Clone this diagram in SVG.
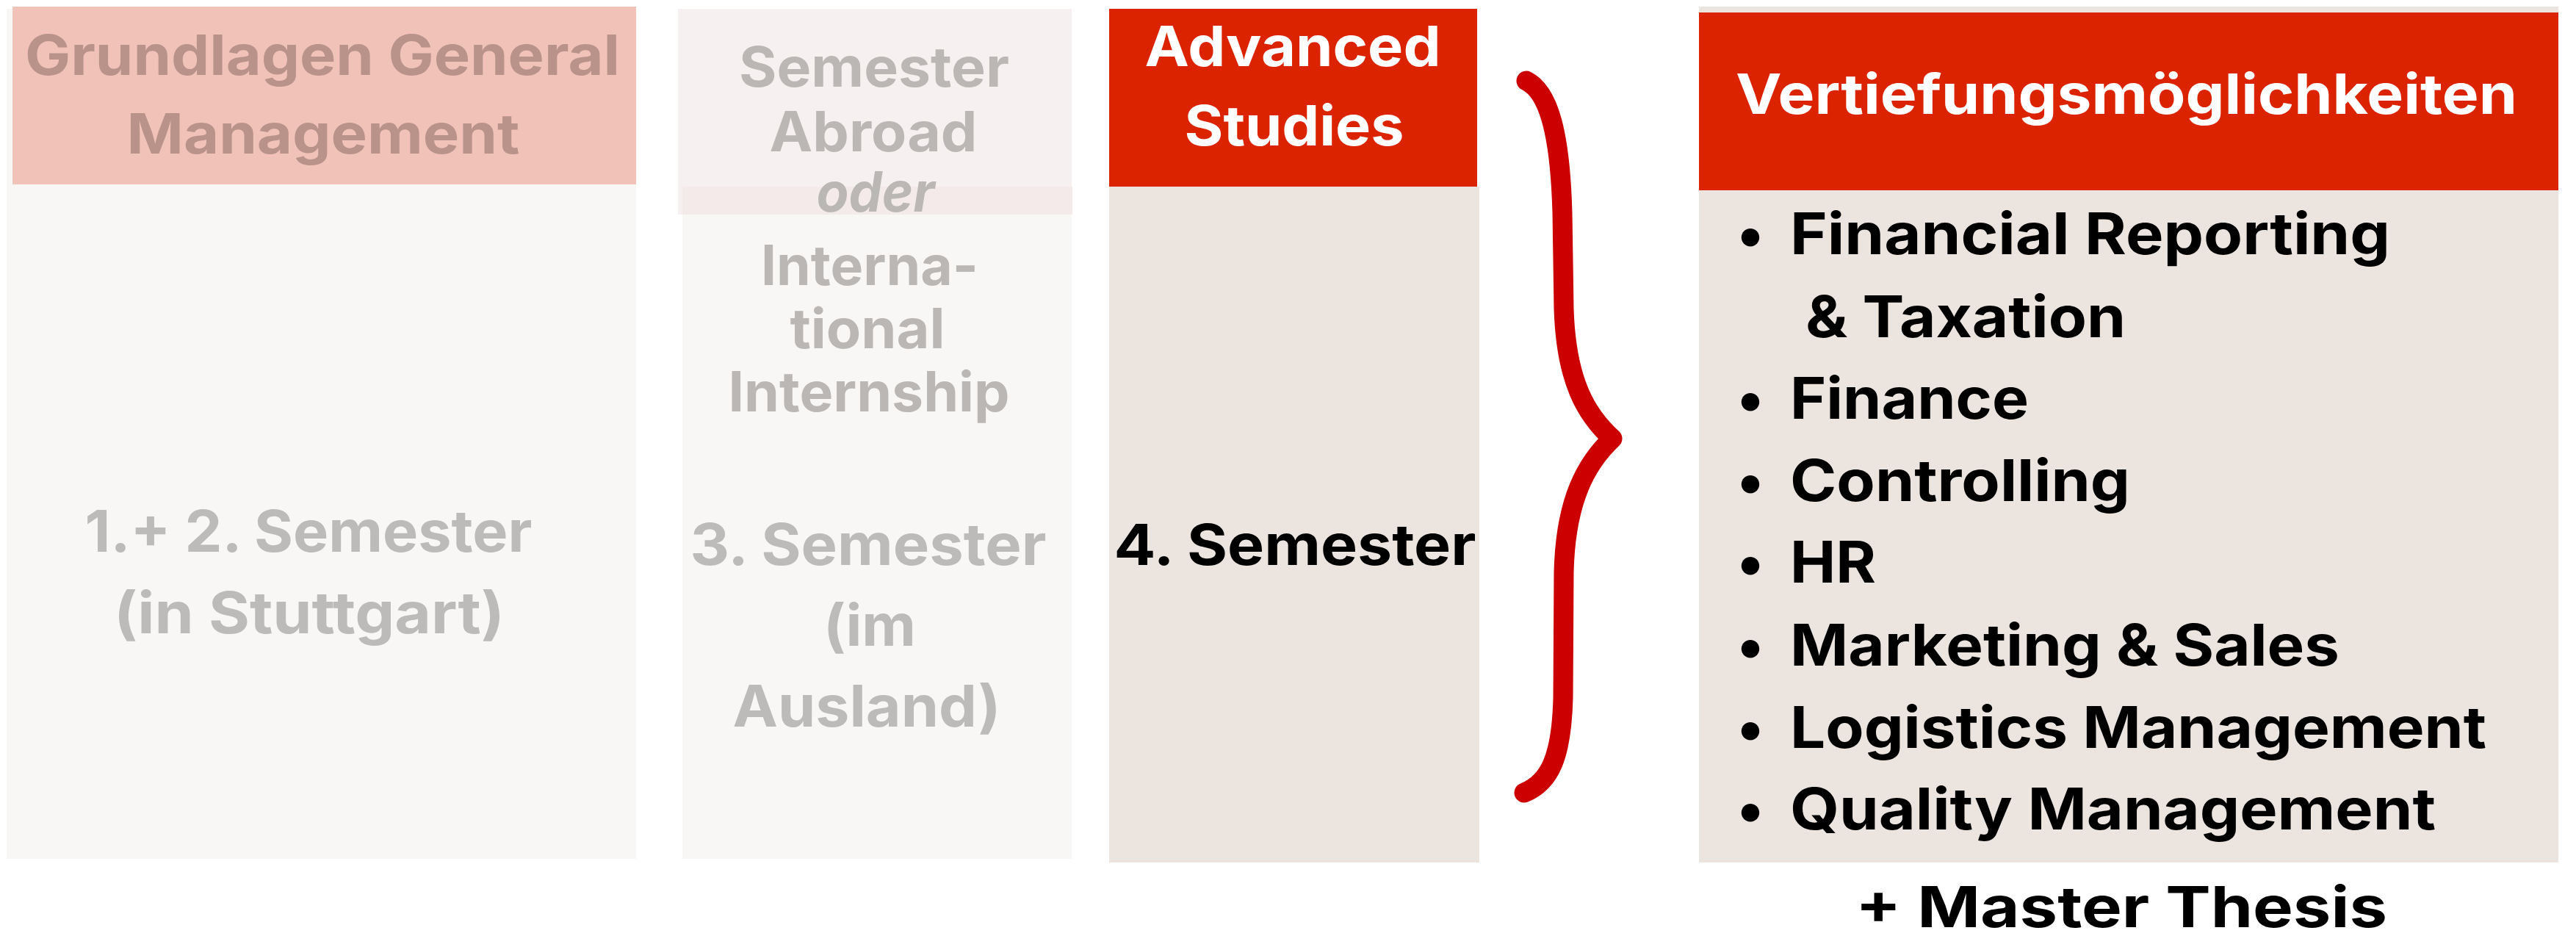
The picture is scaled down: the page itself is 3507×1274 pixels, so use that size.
<svg xmlns="http://www.w3.org/2000/svg" width="3507" height="1274" viewBox="0 0 3507 1274">
<style>
text{font-family:Inter,"Open Sans","Liberation Sans",sans-serif;font-weight:700;text-anchor:middle}
.g1{fill:#b9928a;font-size:76px}
.g2{fill:#bab7b5;font-size:75px}
.gb{fill:#bdbbb9;font-size:78px}
.wh{fill:#ffffff;font-size:76px}
.bk{fill:#000000;font-size:77px}
.li{fill:#000000;font-size:78px;text-anchor:start}
.bu{fill:#000000;font-size:78px}
</style>
<rect x="0" y="0" width="3507" height="1274" fill="#ffffff"/>
<g id="grundlagen">
<rect x="9" y="12" width="857" height="1157" fill="#f8f7f5"/>
<rect x="17" y="9" width="849" height="242" fill="#f1c2b8"/>
<text class="g1" x="439" y="102" textLength="810" lengthAdjust="spacingAndGlyphs">Grundlagen General</text>
<text class="g1" x="440" y="209" textLength="535" lengthAdjust="spacingAndGlyphs">Management</text>
<text class="gb" x="420" y="751" textLength="609" lengthAdjust="spacingAndGlyphs">1.+ 2. Semester</text>
<text class="gb" x="421" y="862" textLength="532" lengthAdjust="spacingAndGlyphs">(in Stuttgart)</text>
</g>
<g id="ausland">
<rect x="923" y="12" width="536" height="280" fill="#f6f1f0"/>
<rect x="929" y="254" width="531" height="38" fill="#f4eae9"/>
<rect x="929" y="292" width="530" height="877" fill="#f8f7f5"/>
<text class="g2" x="1190" y="118" textLength="368" lengthAdjust="spacingAndGlyphs">Semester</text>
<text class="g2" x="1189" y="206" textLength="283" lengthAdjust="spacingAndGlyphs">Abroad</text>
<text class="g2" x="1192" y="288" font-style="italic" fill="#b6b0af" textLength="161" lengthAdjust="spacingAndGlyphs">oder</text>
<text class="g2" x="1184" y="388" textLength="296" lengthAdjust="spacingAndGlyphs">Interna-</text>
<text class="g2" x="1181" y="474" textLength="211" lengthAdjust="spacingAndGlyphs">tional</text>
<text class="g2" x="1183" y="560" textLength="383" lengthAdjust="spacingAndGlyphs">Internship</text>
<text class="gb" x="1182" y="769" textLength="485" lengthAdjust="spacingAndGlyphs">3. Semester</text>
<text class="gb" x="1184" y="879" textLength="126" lengthAdjust="spacingAndGlyphs">(im</text>
<text class="gb" x="1180" y="989" textLength="365" lengthAdjust="spacingAndGlyphs">Ausland)</text>
</g>
<g id="advanced">
<rect x="1510" y="254" width="504" height="920" fill="#ece4df"/>
<rect x="1510" y="12" width="501" height="242" fill="#dc2300"/>
<text class="wh" x="1760" y="90" textLength="403" lengthAdjust="spacingAndGlyphs">Advanced</text>
<text class="wh" x="1762" y="198" textLength="299" lengthAdjust="spacingAndGlyphs">Studies</text>
<text class="bk" x="1763" y="769" textLength="493" lengthAdjust="spacingAndGlyphs">4. Semester</text>
</g>
<g id="connectors">
<path d="M2078,110 C2108,125 2124,180 2127,290 L2129,420 C2132,520 2160,565 2195,597 C2160,630 2131,680 2129,780 L2128,950 C2126,1030 2110,1065 2075,1079" fill="none" stroke="#cc0000" stroke-width="27" stroke-linejoin="round" stroke-linecap="round"/>
</g>
<g id="vertiefung">
<rect x="2313" y="9" width="1170" height="1165" fill="#ece4df"/>
<rect x="2313" y="17" width="1170" height="242" fill="#dc2300"/>
<text class="wh" x="2895" y="155" font-size="74" textLength="1064" lengthAdjust="spacingAndGlyphs">Vertiefungsmöglichkeiten</text>
<text class="bu" x="2383" y="346">•</text>
<text class="li" x="2437" y="346" textLength="817" lengthAdjust="spacingAndGlyphs">Financial Reporting</text>
<text class="li" x="2458" y="459" textLength="436" lengthAdjust="spacingAndGlyphs">&amp; Taxation</text>
<text class="bu" x="2383" y="570">•</text>
<text class="li" x="2437" y="570" textLength="325" lengthAdjust="spacingAndGlyphs">Finance</text>
<text class="bu" x="2383" y="682">•</text>
<text class="li" x="2437" y="682" textLength="463" lengthAdjust="spacingAndGlyphs">Controlling</text>
<text class="bu" x="2383" y="793">•</text>
<text class="li" x="2437" y="793" textLength="117" lengthAdjust="spacingAndGlyphs">HR</text>
<text class="bu" x="2383" y="906">•</text>
<text class="li" x="2437" y="906" textLength="748" lengthAdjust="spacingAndGlyphs">Marketing &amp; Sales</text>
<text class="bu" x="2383" y="1018">•</text>
<text class="li" x="2437" y="1018" textLength="948" lengthAdjust="spacingAndGlyphs">Logistics Management</text>
<text class="bu" x="2383" y="1129">•</text>
<text class="li" x="2437" y="1129" textLength="879" lengthAdjust="spacingAndGlyphs">Quality Management</text>
</g>
<g id="master-thesis">
<text class="bk" x="2888" y="1262" font-size="86" textLength="724" lengthAdjust="spacingAndGlyphs">+ Master Thesis</text>
</g>
</svg>
